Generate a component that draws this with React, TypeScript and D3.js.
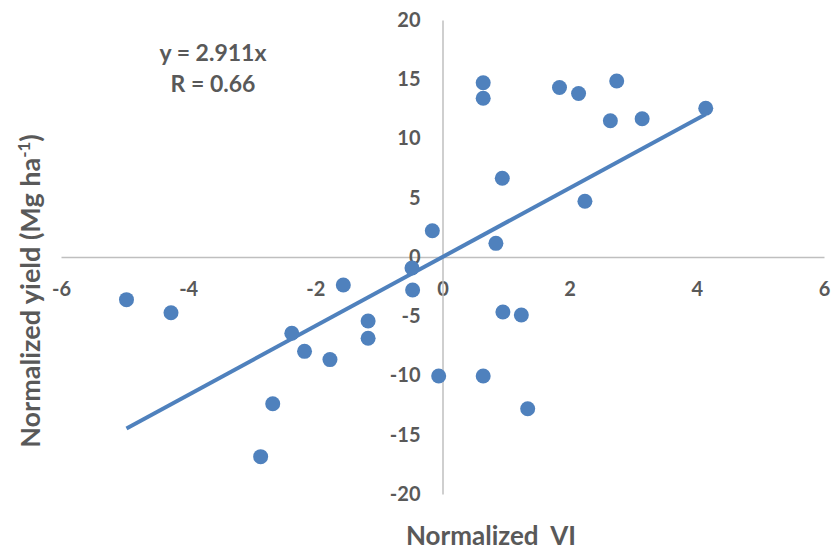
import React, { useRef, useEffect } from 'react'
import { select, scaleLinear, axisBottom, axisLeft, line } from 'd3'

// normalized VI vs normalized yield
const viValues = [
  0.64, 0.64, 1.84, 2.14, 2.74, 2.64, 3.14, 4.14, 0.94, 2.24, -0.16, 0.84,
  -4.97, -4.27, -1.56, -0.48, -0.47, -1.17, -1.17, -2.37, -2.17, -1.77, -2.67, -2.86,
  0.95, 1.24, -0.06, 0.64, 1.34
]
const yieldValues = [
  14.7, 13.4, 14.3, 13.8, 14.85, 11.5, 11.67, 12.55, 6.64, 4.7, 2.22, 1.15,
  -3.6, -4.7, -2.36, -0.93, -2.78, -5.4, -6.86, -6.44, -7.96, -8.66, -12.38, -16.85,
  -4.64, -4.9, -10.04, -10.04, -12.8
]
const xTicks = [-6, -4, -2, 0, 2, 4, 6]
const yTicks = [-20, -15, -10, -5, 0, 5, 10, 15, 20]
const slope = 2.911
const equationLines = ['y = 2.911x', 'R = 0.66']

const W = 833
const H = 550
const BLUE = '#4F81BD'
const GREY_TEXT = '#595959'
const FONT = 'Lato, "Open Sans", sans-serif'

export default function App() {
  const ref = useRef<SVGSVGElement>(null)

  useEffect(() => {
    if (ref.current === null) return
    const svg = select(ref.current)
    svg.selectAll('*').remove()

    const x = scaleLinear().domain([-6, 6]).range([61, 824])
    const y = scaleLinear().domain([-20, 20]).range([494, 20])
    // plain hyphen minus like the original labels
    const fmt = (d: any) => String(d)

    // x axis through y = 0
    const xAxisG = svg.append('g')
      .attr('transform', `translate(0,${y(0)})`)
      .call(axisBottom(x).tickValues(xTicks).tickSize(0).tickFormat(fmt))
    xAxisG.select('.domain').attr('stroke', '#BFBFBF').attr('stroke-width', 1.5)
    xAxisG.selectAll('text')
      .attr('font-family', FONT).attr('font-weight', 700).attr('font-size', 20)
      .attr('fill', GREY_TEXT).attr('y', 32).attr('dy', '0.36em')

    // y axis through x = 0
    const yAxisG = svg.append('g')
      .attr('transform', `translate(${x(0)},0)`)
      .call(axisLeft(y).tickValues(yTicks).tickSize(0).tickPadding(22).tickFormat(fmt))
    yAxisG.select('.domain').attr('stroke', '#BFBFBF').attr('stroke-width', 1.5)
    yAxisG.selectAll('text')
      .attr('font-family', FONT).attr('font-weight', 700).attr('font-size', 20)
      .attr('fill', GREY_TEXT)

    // trendline over the data range
    const xmin = Math.min(...viValues)
    const xmax = Math.max(...viValues)
    const trend = line<number>().x(d => x(d)).y(d => y(slope * d))
    svg.append('path')
      .attr('d', trend([xmin, xmax]))
      .attr('stroke', BLUE).attr('stroke-width', 4).attr('fill', 'none')

    // points
    svg.append('g').selectAll('circle')
      .data(viValues.map((v, i) => [v, yieldValues[i]]))
      .enter().append('circle')
      .attr('cx', d => x(d[0]))
      .attr('cy', d => y(d[1]))
      .attr('r', 7.5)
      .attr('fill', BLUE)

    // equation label
    svg.append('g').selectAll('text')
      .data(equationLines)
      .enter().append('text')
      .attr('x', 213)
      .attr('y', (d, i) => 61 + i * 31)
      .attr('text-anchor', 'middle')
      .attr('font-family', FONT).attr('font-weight', 700).attr('font-size', 23)
      .attr('fill', GREY_TEXT)
      .text(d => d)

    // axis titles
    svg.append('text')
      .attr('x', 491).attr('y', 545)
      .attr('text-anchor', 'middle')
      .attr('font-family', FONT).attr('font-weight', 700).attr('font-size', 26)
      .attr('fill', GREY_TEXT)
      .style('white-space', 'pre')
      .text('Normalized  VI')

    const yt = svg.append('text')
      .attr('transform', `translate(40,291) rotate(-90)`)
      .attr('text-anchor', 'middle')
      .attr('font-family', FONT).attr('font-weight', 700).attr('font-size', 27)
      .attr('fill', GREY_TEXT)
    yt.append('tspan').text('Normalized yield (Mg ha')
    yt.append('tspan').attr('dy', -10).attr('font-size', 17).text('-1')
    yt.append('tspan').attr('dy', 10).text(')')
  }, [])

  return (
    <svg ref={ref} width={W} height={H}
      style={{ position: 'absolute', left: 0, top: 0, background: '#fff' }} />
  )
}
